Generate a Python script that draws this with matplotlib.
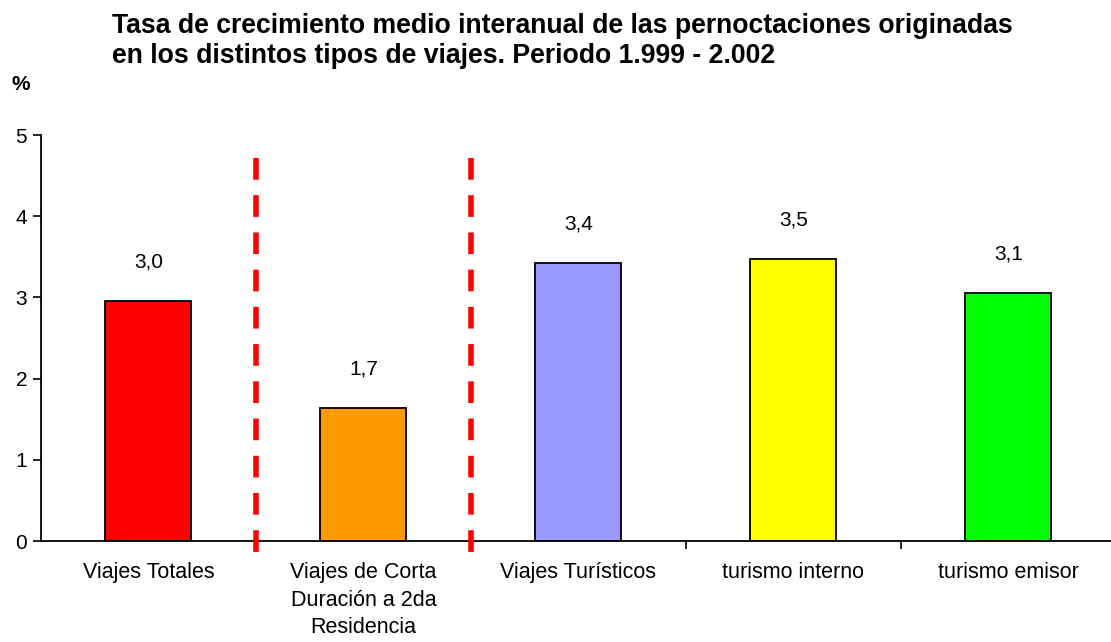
import matplotlib
matplotlib.use("Agg")
import matplotlib.pyplot as plt
import numpy as np

plt.rcParams["font.family"] = ["Liberation Sans", "DejaVu Sans"]

# data
categories = [
    "Viajes Totales",
    "Viajes de Corta\nDuración a 2da\nResidencia",
    "Viajes Turísticos",
    "turismo interno",
    "turismo emisor",
]
values = [2.96, 1.64, 3.42, 3.47, 3.05]
value_labels = ["3,0", "1,7", "3,4", "3,5", "3,1"]
bar_colors = ["#FF0000", "#FF9900", "#9999FF", "#FFFF00", "#00FF00"]
separators = [0.5, 1.5]

title = ("Tasa de crecimiento medio interanual de las pernoctaciones originadas\n"
         "en los distintos tipos de viajes. Periodo 1.999 - 2.002")

fig = plt.figure(figsize=(11.11, 6.42), dpi=100)
ax = fig.add_axes([0.0369, 0.1573, 0.9676, 0.6324])

x = np.arange(len(categories))
ax.bar(x, values, width=0.4, color=bar_colors, edgecolor="black", linewidth=1.3, zorder=2)

for xi, v, lab in zip(x, values, value_labels):
    ax.annotate(lab, (xi, v), xytext=(0, 28), textcoords="offset points",
                ha="center", va="center", fontsize=15)

for s in separators:
    ax.plot([s, s], [4.72, -0.15], color="#FF0000", linewidth=4,
            dashes=(3.9, 2.8), solid_capstyle="butt", dash_capstyle="butt",
            clip_on=False, zorder=3)

ax.set_xlim(-0.5, len(categories) - 0.5)
ax.set_ylim(0, 5)
ax.set_yticks(range(0, 6))
ax.tick_params(axis="y", direction="out", length=6, width=1.2, labelsize=15, pad=4)
ax.set_xticks(x)
ax.set_xticklabels(categories, fontsize=15.5, linespacing=1.42)
ax.tick_params(axis="x", which="major", length=0, pad=15)
ax.set_xticks(np.arange(0.5, len(categories) - 0.5, 1), minor=True)
ax.tick_params(axis="x", which="minor", direction="out", length=6, width=1.2)

for side in ["top", "right"]:
    ax.spines[side].set_visible(False)
for side in ["left", "bottom"]:
    ax.spines[side].set_linewidth(1.3)

fig.text(0.101, 0.98, title, ha="left", va="top", fontsize=19.2,
         fontweight="bold", linespacing=1.2)
fig.text(0.019, 0.868, "%", ha="center", va="center", fontsize=15, fontweight="bold")

fig.savefig("out.png", dpi=100)
